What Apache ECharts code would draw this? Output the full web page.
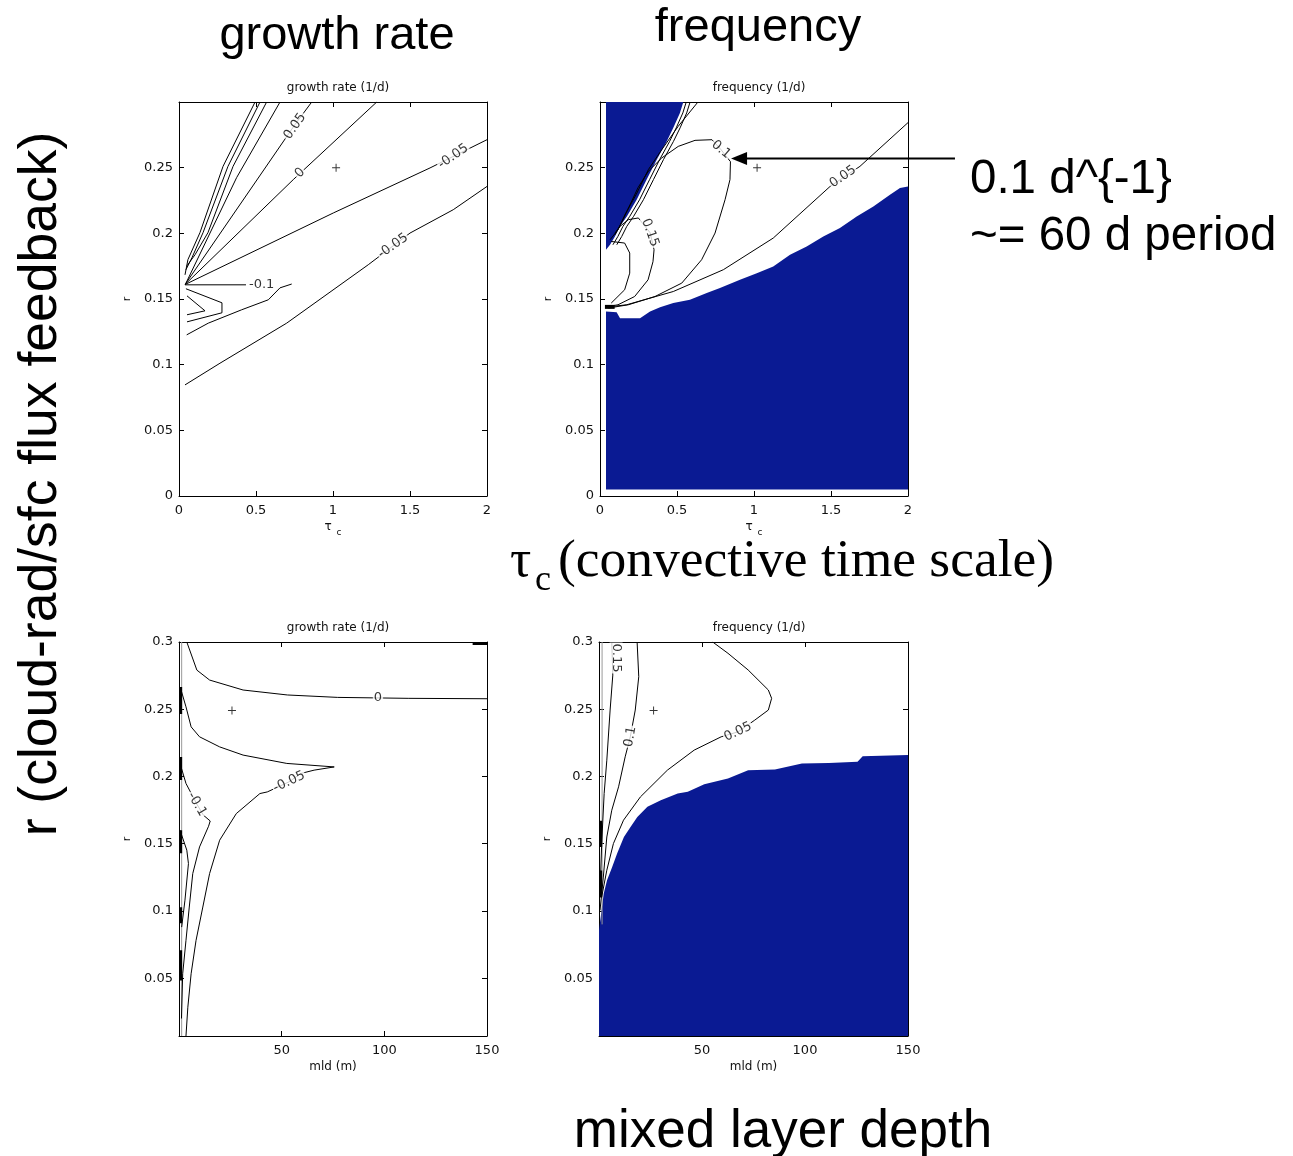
<!DOCTYPE html>
<html>
<head>
<meta charset="utf-8">
<script src="https://cdn.jsdelivr.net/npm/echarts@6/dist/echarts.min.js"></script>
<style>
html, body { margin: 0; padding: 0; background: #fff; }
#main { width: 1293px; height: 1156px; }
</style>
</head>
<body>
<div id="main"></div>
<script>
var chart = echarts.init(document.getElementById('main'));
var BLUE = '#0a1a93';

// ticks
var tauTicks = [0, 0.5, 1, 1.5, 2];
var rTicksTop = [0, 0.05, 0.1, 0.15, 0.2, 0.25];
var mldTicks = [50, 100, 150];
var rTicksBot = [0.05, 0.1, 0.15, 0.2, 0.25, 0.3];

// ---- top left: growth rate vs tau_c ----
var gA = [[0.039, 0.0846], [0.266, 0.1011], [0.699, 0.1316], [1.229, 0.1761], [1.5, 0.2002], [1.781, 0.218], [2.0, 0.2357]];
var gB = [[0.039, 0.161], [1.002, 0.2155], [1.63, 0.2498], [2.0, 0.2713]];
var gZero = [[0.039, 0.161], [0.742, 0.2409], [1.284, 0.3]];
var gD = [[0.039, 0.161], [0.753, 0.2828], [0.862, 0.3]];
var gE = [[0.045, 0.162], [0.374, 0.2424], [0.656, 0.3]];
var gB1 = [[0.039, 0.1684], [0.058, 0.18], [0.136, 0.2005], [0.286, 0.251], [0.494, 0.3]];
var gB2 = [[0.045, 0.1723], [0.084, 0.1814], [0.156, 0.2005], [0.318, 0.251], [0.526, 0.3]];
var gB3 = [[0.052, 0.1753], [0.104, 0.1837], [0.188, 0.2005], [0.351, 0.251], [0.569, 0.3]];
var gM1a = [[0.039, 0.1608], [0.435, 0.1608]];
var gM1b = [[0.05, 0.1227], [0.19, 0.1316], [0.407, 0.1418], [0.58, 0.1494], [0.656, 0.1585], [0.732, 0.1614]];
var gWedge = [[0.045, 0.1578], [0.279, 0.1471], [0.279, 0.1395], [0.052, 0.1326]];
var gVee = [[0.052, 0.1524], [0.169, 0.141], [0.052, 0.138]];
var labTL = [[0.753, 0.2815, '0.05'], [0.786, 0.246, '0'], [1.781, 0.2586, '-0.05'], [1.39, 0.1904, '-0.05'], [0.537, 0.1608, '-0.1']];
var rotTL = [55, 45, 35, 35, 0];
var plusTL = [[1.02, 0.25]];

// ---- top right: frequency vs tau_c ----
var blueLowTR = [[0.039, 0.005], [0.039, 0.1405], [0.108, 0.14], [0.13, 0.1354], [0.26, 0.1354], [0.325, 0.1405], [0.39, 0.1438],
  [0.476, 0.1469], [0.584, 0.1494], [0.693, 0.1545], [0.779, 0.1583], [0.909, 0.1646], [1.018, 0.1697], [1.125, 0.1748],
  [1.234, 0.1837], [1.342, 0.19], [1.45, 0.1976], [1.558, 0.204], [1.667, 0.2129], [1.775, 0.2205], [1.883, 0.2294],
  [1.948, 0.2345], [2.0, 0.2357], [2.0, 0.005]];
var blueUpTR = [[0.039, 0.3], [0.541, 0.3], [0.519, 0.2917], [0.476, 0.2803], [0.433, 0.27], [0.368, 0.2561], [0.303, 0.2409],
  [0.238, 0.2256], [0.174, 0.2129], [0.13, 0.2053], [0.097, 0.1976], [0.065, 0.1913], [0.039, 0.1875]];
var f05 = [[0.043, 0.1438], [0.173, 0.1456], [0.476, 0.1557], [0.801, 0.1723], [1.125, 0.1964], [1.494, 0.2357], [1.688, 0.251], [2.0, 0.2843]];
var fTop = [[0.636, 0.3], [0.508, 0.2815], [0.401, 0.2637], [0.314, 0.2485], [0.234, 0.2294], [0.162, 0.2142], [0.117, 0.2027], [0.065, 0.1951]];
var fEdge1 = [[0.56, 0.3], [0.538, 0.2917], [0.495, 0.2803], [0.452, 0.27], [0.387, 0.2561], [0.322, 0.2409], [0.257, 0.2256], [0.193, 0.2129], [0.149, 0.2053], [0.116, 0.1976], [0.084, 0.1913]];
var fEdge2 = [[0.585, 0.3], [0.563, 0.2917], [0.52, 0.2803], [0.477, 0.27], [0.412, 0.2561], [0.347, 0.2409], [0.282, 0.2256], [0.218, 0.2129], [0.174, 0.2053], [0.141, 0.1976], [0.109, 0.1913]];
var f10 = [[0.054, 0.1431], [0.184, 0.1456], [0.357, 0.1519], [0.531, 0.1621], [0.66, 0.1799], [0.747, 0.2002], [0.812, 0.2256],
  [0.844, 0.2409], [0.847, 0.2546], [0.786, 0.2637], [0.727, 0.2713], [0.617, 0.2708], [0.508, 0.2662], [0.401, 0.2574],
  [0.312, 0.247], [0.247, 0.2348], [0.195, 0.2218], [0.143, 0.2088], [0.097, 0.1989]];
var f15 = [[0.097, 0.2002], [0.13, 0.2053], [0.184, 0.2104], [0.249, 0.2117], [0.325, 0.2005], [0.351, 0.1875], [0.344, 0.1784],
  [0.312, 0.1646], [0.225, 0.1519], [0.117, 0.1456], [0.052, 0.1443]];
var f20 = [[0.073, 0.1938], [0.16, 0.1926], [0.193, 0.185], [0.193, 0.1697], [0.16, 0.157], [0.073, 0.1469]];
var fBlock = [[0.032, 0.144], [0.095, 0.144]];
var labTR = [[0.786, 0.2637, '0.1'], [0.325, 0.2005, '0.15'], [1.578, 0.2431, '0.05']];
var rotTR = [-40, -70, 35];
var plusTR = [[1.02, 0.25]];
var arrowTR = [[0.851, 0.2569], [2.305, 0.2569]];

// ---- bottom left: growth rate vs mld ----
var bZero = [[3.8, 0.3], [8.7, 0.2791], [14.9, 0.2717], [31.2, 0.2643], [52.8, 0.2606], [77.3, 0.2588], [111.6, 0.2581], [150, 0.2578]];
var bTopEdge = [[143, 0.2985], [150, 0.2985]];
var bM05 = [[1.0, 0.2643], [3.4, 0.2518], [5.9, 0.2369], [10.0, 0.2295], [19.8, 0.222], [31.2, 0.2159], [52.5, 0.2097],
  [75.6, 0.2071], [76.5, 0.2057], [65.8, 0.2047], [59.3, 0.2022], [53.6, 0.196], [43.0, 0.1885], [39.4, 0.1873],
  [27.9, 0.1724], [19.8, 0.1526], [14.9, 0.1278], [11.6, 0.1029], [8.3, 0.0781], [5.9, 0.0533], [4.3, 0.0284], [3.4, 0.007]];
var bM10 = [[1.0, 0.2071], [3.4, 0.1948], [8.7, 0.1794], [11.9, 0.1712], [15.2, 0.1669], [14.4, 0.163], [10.0, 0.1476],
  [6.7, 0.1278], [5.0, 0.1029], [3.4, 0.0781], [1.8, 0.0533], [1.2, 0.02]];
var bM15 = [[0.5, 0.16], [3.8, 0.1452], [4.6, 0.1352], [2.9, 0.108], [1.3, 0.088]];
var bGray = [[1.3, 0.007], [1.3, 0.3]];
var bThick = [[[0.8, 0.2665], [0.8, 0.2464]], [[0.8, 0.2144], [0.8, 0.1973]], [[0.8, 0.16], [0.8, 0.1429]],
  [[0.8, 0.1027], [0.8, 0.0908]], [[0.8, 0.0707], [0.8, 0.0483]]];
var labBL = [[96.9, 0.2588, '0'], [53.6, 0.196, '-0.05'], [8.7, 0.1794, '-0.1']];
var rotBL = [0, 25, -60];
var plusBL = [[25.8, 0.249]];

// ---- bottom right: frequency vs mld ----
var blueBR = [[0, 0.007], [0, 0.0856], [2.3, 0.1129], [3.9, 0.1228], [6.4, 0.1327], [8.8, 0.1427], [12.1, 0.155], [15.3, 0.1625],
  [18.6, 0.1699], [23.5, 0.1774], [30.0, 0.1824], [38.2, 0.1873], [43.1, 0.1886], [51.1, 0.1943], [62.6, 0.1985],
  [72.4, 0.2047], [85.4, 0.2052], [98.5, 0.2097], [111.6, 0.2101], [125.5, 0.2109], [128, 0.2151], [150, 0.2159], [150, 0.007]];
var c05 = [[55.2, 0.3], [62.6, 0.2916], [72.4, 0.2792], [82.2, 0.2643], [83.8, 0.2581], [82.2, 0.2494], [75.6, 0.2419],
  [67.5, 0.2332], [59.3, 0.2295], [46.2, 0.2196], [33.2, 0.2047], [20.1, 0.1848], [11.9, 0.1675], [7.0, 0.1501], [3.8, 0.1303], [1.3, 0.1104]];
var c10 = [[18.5, 0.3], [19.3, 0.2742], [17.6, 0.2494], [15.2, 0.2295], [12.7, 0.2146], [9.5, 0.1923], [6.2, 0.1749], [3.8, 0.155], [2.1, 0.1252], [0.5, 0.1004]];
var c15 = [[6.2, 0.3], [6.7, 0.2754], [5.4, 0.2494], [3.8, 0.2121], [2.5, 0.1873], [1.3, 0.1501], [0.5, 0.1129]];
var cGray = [[1.5, 0.09], [1.5, 0.3]];
var cThick = [[[0.8, 0.167], [0.8, 0.1476]], [[0.8, 0.13], [0.8, 0.11]]];
var labBR = [[67.5, 0.2332, '0.05'], [15.2, 0.2295, '0.1'], [8.3, 0.2881, '0.15']];
var rotBR = [25, 80, -90];
var plusBR = [[26.5, 0.249]];

var smallFont = 'DejaVu Sans';
var grids = [
  { left: 179, top: 102, width: 308, height: 394 },
  { left: 600, top: 102, width: 308, height: 394 },
  { left: 179, top: 642, width: 308, height: 394 },
  { left: 599, top: 642, width: 309, height: 394 }
];
grids.forEach(function (g) { g.outerBoundsMode = 'none'; });

var lineStyleBlack = { color: '#000', width: 1 };
var xAxes = [], yAxes = [];
function addAxes(g, xmin, xmax, xt, ymin, ymax, yt, xname, xgap) {
  var base = {
    gridIndex: g, type: 'value', splitLine: { show: false },
    axisLine: { show: true, onZero: false, lineStyle: lineStyleBlack }
  };
  xAxes.push(Object.assign({}, base, {
    position: 'bottom', min: xmin, max: xmax,
    name: xname, nameLocation: 'middle', nameGap: xgap,
    nameTextStyle: { fontFamily: smallFont, fontSize: 12, color: '#111',
      rich: { s: { fontFamily: smallFont, fontSize: 9, color: '#111', padding: [12, 0, 0, 1] } } },
    axisTick: { inside: true, length: 5, customValues: xt, lineStyle: lineStyleBlack },
    axisLabel: { customValues: xt, margin: 8, fontFamily: smallFont, fontSize: 13, color: '#111' }
  }));
  xAxes.push(Object.assign({}, base, {
    position: 'top', min: xmin, max: xmax,
    axisTick: { inside: true, length: 5, customValues: xt, lineStyle: lineStyleBlack },
    axisLabel: { show: false }
  }));
  yAxes.push(Object.assign({}, base, {
    position: 'left', min: ymin, max: ymax,
    name: 'r', nameLocation: 'middle', nameGap: 46, nameRotate: 90,
    nameTextStyle: { fontFamily: smallFont, fontSize: 11, color: '#111' },
    axisTick: { inside: true, length: 5, customValues: yt, lineStyle: lineStyleBlack },
    axisLabel: { customValues: yt, margin: 6, fontFamily: smallFont, fontSize: 13, color: '#111' }
  }));
  yAxes.push(Object.assign({}, base, {
    position: 'right', min: ymin, max: ymax,
    axisTick: { inside: true, length: 5, customValues: yt, lineStyle: lineStyleBlack },
    axisLabel: { show: false }
  }));
}
addAxes(0, 0, 2, tauTicks, 0, 0.3, rTicksTop, 'τ {s|c}', 20);
addAxes(1, 0, 2, tauTicks, 0, 0.3, rTicksTop, 'τ {s|c}', 20);
addAxes(2, 0, 150, mldTicks, 0.007, 0.3, rTicksBot, 'mld (m)', 25);
addAxes(3, 0, 150, mldTicks, 0.007, 0.3, rTicksBot, 'mld (m)', 25);

var series = [];
function addLine(g, data, color, width) {
  series.push({
    type: 'line', xAxisIndex: g * 2, yAxisIndex: g * 2, data: data,
    showSymbol: false, symbol: 'none', silent: true, z: 3,
    lineStyle: { color: color || '#000', width: width || 1 }
  });
}
function addPoly(g, data) {
  series.push({
    type: 'custom', xAxisIndex: g * 2, yAxisIndex: g * 2, data: data, silent: true, z: 1,
    encode: { x: 0, y: 1 },
    renderItem: function (params, api) {
      if (params.dataIndex !== 0) return;
      var pts = data.map(function (d) { return api.coord(d); });
      return { type: 'polygon', shape: { points: pts }, style: { fill: BLUE } };
    }
  });
}
function addLabels(g, items, rots) {
  series.push({
    type: 'scatter', xAxisIndex: g * 2, yAxisIndex: g * 2, symbolSize: 1, silent: true, z: 6,
    itemStyle: { color: 'rgba(0,0,0,0)' },
    label: { show: true, position: 'inside', color: '#000', fontFamily: smallFont, fontSize: 13,
      backgroundColor: '#fff', padding: [0, 1] },
    data: items.map(function (d, i) {
      return { value: [d[0], d[1]], label: { formatter: d[2], rotate: rots[i] } };
    })
  });
}
function addPlus(g, pts) {
  series.push({
    type: 'scatter', xAxisIndex: g * 2, yAxisIndex: g * 2, silent: true, z: 6,
    symbol: 'path://M4.4,0H5.6V4.4H10V5.6H5.6V10H4.4V5.6H0V4.4H4.4Z', symbolSize: 8,
    itemStyle: { color: '#000' }, data: pts
  });
}

// top left
[gA, gB, gZero, gD, gE, gB1, gB2, gB3, gM1a, gM1b, gWedge, gVee].forEach(function (d) { addLine(0, d); });
addLabels(0, labTL, rotTL);
addPlus(0, plusTL);

// top right
addPoly(1, blueLowTR);
addPoly(1, blueUpTR);
[f05, fTop, fEdge1, fEdge2, f10, f15, f20].forEach(function (d) { addLine(1, d); });
addLine(1, fBlock, '#000', 4);
addLabels(1, labTR, rotTR);
addPlus(1, plusTR);

// bottom left
addLine(2, bGray, '#999', 1);
bThick.forEach(function (d) { addLine(2, d, '#000', 3); });
[bZero, bM05, bM10, bM15].forEach(function (d) { addLine(2, d); });
addLine(2, bTopEdge, '#000', 2);
addLabels(2, labBL, rotBL);
addPlus(2, plusBL);

// bottom right
addPoly(3, blueBR);
addLine(3, cGray, '#999', 1);
cThick.forEach(function (d) { addLine(3, d, '#000', 3); });
[c05, c10, c15].forEach(function (d) { addLine(3, d); });
addLabels(3, labBR, rotBR);
addPlus(3, plusBR);

function smallTitle(text, x, y) {
  return { text: text, left: x, top: y, textAlign: 'center',
    textStyle: { fontFamily: smallFont, fontSize: 12, fontWeight: 'normal', color: '#111' } };
}
function bigText(text, x, y, size, align, family, rot) {
  return { type: 'text', x: x, y: y, rotation: rot || 0, silent: true,
    style: { text: text, fontSize: size, fontFamily: family || 'Liberation Sans', fill: '#000',
      textAlign: align || 'center', textVerticalAlign: 'middle' } };
}

var texts = [
  bigText('growth rate', 337, 36, 47),
  bigText('frequency', 758, 28, 47),
  bigText('0.1 d^{-1}', 970, 180, 47.5, 'left'),
  bigText('~= 60 d period', 970, 237, 47.5, 'left'),
  bigText('r (cloud-rad/sfc flux feedback)', 41, 484, 53.5, 'center', 'Liberation Sans', Math.PI / 2),
  bigText('τ', 510, 562, 53, 'left', 'Liberation Serif'),
  bigText('c', 535, 581, 36, 'left', 'Liberation Serif'),
  bigText('(convective time scale)', 558, 562, 53.5, 'left', 'Liberation Serif'),
  bigText('mixed layer depth', 783, 1132, 53)
];

var option = {
  animation: false,
  backgroundColor: '#fff',
  title: [
    smallTitle('growth rate (1/d)', 333, 77),
    smallTitle('frequency (1/d)', 754, 77),
    smallTitle('growth rate (1/d)', 333, 617),
    smallTitle('frequency (1/d)', 754, 617)
  ],
  grid: grids,
  xAxis: xAxes,
  yAxis: yAxes,
  series: series,
  graphic: texts
};
chart.setOption(option);

// annotation arrow in the top-right panel, placed through its axes
var tip = chart.convertToPixel({ xAxisIndex: 2, yAxisIndex: 2 }, arrowTR[0]);
var tail = chart.convertToPixel({ xAxisIndex: 2, yAxisIndex: 2 }, arrowTR[1]);
chart.setOption({
  graphic: texts.concat([
    { type: 'line', silent: true, z: 20,
      shape: { x1: tip[0] + 12, y1: tip[1], x2: tail[0], y2: tail[1] },
      style: { stroke: '#000', lineWidth: 2 } },
    { type: 'polygon', silent: true, z: 20,
      shape: { points: [[tip[0], tip[1]], [tip[0] + 16, tip[1] - 6.5], [tip[0] + 16, tip[1] + 6.5]] },
      style: { fill: '#000' } }
  ])
});
</script>
</body>
</html>
